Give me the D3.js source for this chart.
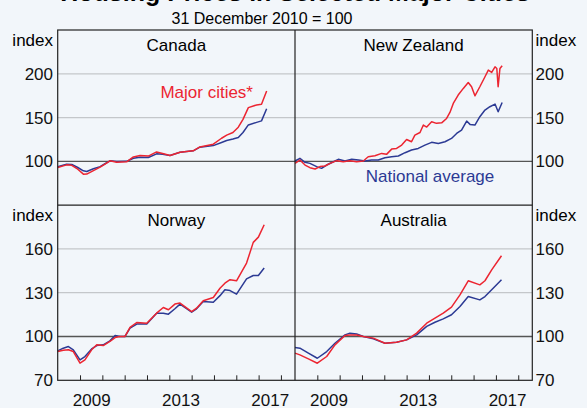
<!DOCTYPE html>
<html>
<head>
<meta charset="utf-8">
<script src="https://cdn.jsdelivr.net/npm/d3@7"></script>
<style>
  body { margin: 0; background: #f2f6fa; }
  svg { display: block; font-family: "Liberation Sans", Arial, sans-serif; }
</style>
</head>
<body>
<script>
// Housing prices, 31 December 2010 = 100

// Canada
var canadaDates = [2008.00, 2008.40, 2008.63, 2008.90, 2009.15, 2009.30, 2009.60, 2009.90, 2010.10, 2010.34,
  2010.64, 2011.09, 2011.39, 2011.69, 2012.06, 2012.43, 2012.70, 2013.03, 2013.48, 2014.07,
  2014.37, 2014.97, 2015.34, 2015.57, 2015.85, 2016.09, 2016.30, 2016.54, 2016.91, 2017.13, 2017.36];
var canadaNational = [94, 96.8, 96.5, 93, 89.2, 88.5, 91.5, 94, 97, 100.6,
  99.8, 100, 103.6, 104.8, 104.4, 108.6, 108, 106.7, 110.5, 112,
  116.2, 118, 121.5, 123.8, 125.5, 127.2, 133, 141.6, 144.5, 146.2, 160];
var canadaCities = [93, 96, 95.5, 91, 85.4, 85.5, 89.5, 93.4, 96.5, 100.6,
  99, 99.5, 105.1, 106.6, 106, 110.8, 109, 106.7, 110.5, 112,
  116.5, 119.6, 126.4, 130, 133, 139, 148, 161.4, 164.4, 165.2, 180.4];

// New Zealand (monthly series, sampled)
var nzCitiesDates = [2008.00, 2008.22, 2008.45, 2008.67, 2008.90, 2009.12, 2009.34, 2009.57, 2009.87, 2010.16,
  2010.46, 2010.76, 2011.06, 2011.28, 2011.58, 2011.88, 2012.10, 2012.33, 2012.55, 2012.78,
  2013.00, 2013.22, 2013.37, 2013.60, 2013.75, 2013.90, 2014.12, 2014.34, 2014.57, 2014.79,
  2014.94, 2015.09, 2015.31, 2015.54, 2015.76, 2015.91, 2016.06, 2016.28, 2016.51, 2016.66,
  2016.81, 2016.96, 2017.04, 2017.10, 2017.18, 2017.28];
var nzCities = [97.7, 101.5, 95.8, 92.8, 91.3, 94, 94.7, 97.7, 100.8, 99.6,
  100.8, 99.6, 100.4, 105.3, 106.5, 109.1, 108, 114, 114.8, 118.6,
  125, 122.4, 130, 133, 141.5, 139.2, 145.3, 143.4, 144, 149,
  155.9, 166.2, 175.7, 183.3, 190.1, 185.2, 174.9, 185.2, 196.6, 204.2,
  201.5, 208, 206.1, 185.2, 206, 209.1];
var nzNationalDates = [2008.00, 2008.22, 2008.45, 2008.67, 2008.97, 2009.19, 2009.42, 2009.72, 2009.94, 2010.24,
  2010.54, 2010.84, 2011.13, 2011.43, 2011.73, 2012.03, 2012.33, 2012.63, 2012.93, 2013.22,
  2013.52, 2013.82, 2014.12, 2014.42, 2014.72, 2015.01, 2015.24, 2015.46, 2015.69, 2015.84,
  2016.06, 2016.28, 2016.51, 2016.73, 2016.96, 2017.10, 2017.28];
var nzNational = [100.4, 103.4, 98.9, 97.7, 94, 92, 95.8, 99.6, 102.3, 100.4,
  102.3, 101.5, 100.4, 101.5, 101.5, 104.2, 105.3, 106.1, 109.9, 112.9,
  114.8, 118.6, 121.7, 120.5, 122.4, 126.2, 131.9, 135.7, 146, 142.2,
  141.5, 151, 158.6, 162.4, 165.4, 156.7, 167.3];

// Norway
var norwayDates = [2008.00, 2008.25, 2008.48, 2008.70, 2009.00, 2009.22, 2009.52, 2009.75, 2010.04, 2010.34,
  2010.57, 2010.79, 2011.01, 2011.24, 2011.54, 2011.99, 2012.43, 2012.73, 2012.96, 2013.25,
  2013.48, 2014.00, 2014.22, 2014.52, 2014.97, 2015.27, 2015.49, 2015.72, 2016.01, 2016.46,
  2016.76, 2016.99, 2017.25];
var norwayNational = [90.2, 92, 93.1, 90.9, 84, 86.3, 91.5, 93.8, 94.3, 97,
  100.7, 100, 100, 105.7, 108.5, 108.5, 116, 116, 115.3, 119,
  122.2, 116.7, 119, 124, 123.5, 128, 132, 131.5, 129, 139.5,
  141.8, 141.8, 146.9];
var norwayCities = [89.7, 90.6, 90.9, 89.7, 81.7, 84, 90.9, 94.3, 93.8, 96.6,
  99.3, 100, 100, 106.2, 109.6, 109.1, 116, 119.9, 118.3, 122.2,
  122.9, 117.1, 119.4, 124.5, 126.7, 133.1, 136.5, 138.9, 138.2, 150.3,
  164.5, 168.1, 176.6];

// Australia
var australiaDates = [2008.00, 2008.22, 2008.60, 2009.00, 2009.42, 2009.79, 2010.24, 2010.46, 2010.76, 2011.06,
  2011.51, 2012.03, 2012.55, 2013.00, 2013.45, 2013.90, 2014.27, 2014.64, 2015.01, 2015.39,
  2015.76, 2016.28, 2016.51, 2016.81, 2017.25];
var australiaNational = [92.5, 92, 88.6, 85.1, 89.7, 95.4, 101.1, 102.3, 101.8, 100,
  98.4, 95.4, 96.1, 97.7, 101.1, 106.9, 109.8, 112.1, 114.9, 120.6,
  127.4, 125.1, 127.4, 132, 138.9];
var australiaCities = [88.6, 87.4, 84.7, 81.7, 86.3, 94.3, 100.7, 101.1, 101.1, 100,
  98.9, 95.4, 96.1, 97.7, 102.3, 109.1, 112.6, 116, 120.1, 128.5,
  138.2, 135.4, 138.2, 145.7, 155.3];

// Axis ticks and labels
var topTicks = [100, 150, 200];
var bottomTicks = [70, 100, 130, 160];
var yearTicks = [2009, 2010, 2011, 2012, 2013, 2014, 2015, 2016, 2017, 2018];
var yearLabels = [2009, 2013, 2017];

var red = "#ec2531";
var blue = "#2c3a94";

// Sizing (note: "top" is reserved on window, so use prefixed names)
var width = 587, height = 408;
var boxLeft = 57.7, boxRight = 532.3, boxTop = 30, boxBottom = 380.3;
var panelW = (boxRight - boxLeft) / 2;
var panelH = (boxBottom - boxTop) / 2;

var svg = d3.select("body")
  .append("svg")
  .attr("width", width)
  .attr("height", height);

// Scales (one per row, x shared by all panels)
var x = d3.scaleLinear().domain([2008, 2018.63]).range([0, panelW]);
var yTop = d3.scaleLinear().domain([50, 250]).range([panelH, 0]);
var yBottom = d3.scaleLinear().domain([70, 190]).range([panelH, 0]);

// Panels built from the arrays above
var panels = [
  {name: "Canada", col: 0, row: 0, y: yTop,
    series: [{dates: canadaDates, values: canadaNational, color: blue},
             {dates: canadaDates, values: canadaCities, color: red}]},
  {name: "New Zealand", col: 1, row: 0, y: yTop,
    series: [{dates: nzNationalDates, values: nzNational, color: blue},
             {dates: nzCitiesDates, values: nzCities, color: red}]},
  {name: "Norway", col: 0, row: 1, y: yBottom,
    series: [{dates: norwayDates, values: norwayNational, color: blue},
             {dates: norwayDates, values: norwayCities, color: red}]},
  {name: "Australia", col: 1, row: 1, y: yBottom,
    series: [{dates: australiaDates, values: australiaNational, color: blue},
             {dates: australiaDates, values: australiaCities, color: red}]}
];

// Title (mostly cut off at the top) and subtitle
svg.append("text")
  .attr("x", 295)
  .attr("y", 1)
  .attr("text-anchor", "middle")
  .style("font-size", "25px")
  .style("font-weight", "bold")
  .text("Housing Prices in Selected Major Cities");

svg.append("text")
  .attr("x", 262)
  .attr("y", 24)
  .attr("text-anchor", "middle")
  .style("font-size", "16px")
  .text("31 December 2010 = 100");

// Gridlines and value labels for each row
function drawRow(yScale, ticks, y0) {
  var g = svg.append("g").attr("transform", "translate(0," + y0 + ")");
  g.selectAll("line.grid")
    .data(ticks.filter(function(d) { return d != 70; }))
    .enter()
    .append("line")
    .attr("x1", boxLeft)
    .attr("x2", boxRight)
    .attr("y1", function(d) { return yScale(d); })
    .attr("y2", function(d) { return yScale(d); })
    .attr("stroke", function(d) { return d == 100 ? "#555" : "#c4c7ca"; })
    .attr("stroke-width", function(d) { return d == 100 ? 1.3 : 1.2; });

  // left labels
  var yl = d3.axisLeft(yScale).tickValues(ticks).tickSize(0).tickPadding(0);
  g.append("g")
    .attr("transform", "translate(53,0)")
    .call(yl)
    .call(function(a) { a.select(".domain").remove(); })
    .selectAll("text")
    .style("font-size", "17px")
    .style("font-family", "Liberation Sans, Arial, sans-serif")
    .attr("fill", "#111");

  // right labels
  var yr = d3.axisRight(yScale).tickValues(ticks).tickSize(0).tickPadding(0);
  g.append("g")
    .attr("transform", "translate(535.5,0)")
    .call(yr)
    .call(function(a) { a.select(".domain").remove(); })
    .selectAll("text")
    .style("font-size", "17px")
    .style("font-family", "Liberation Sans, Arial, sans-serif")
    .attr("fill", "#111");

  // "index" units
  g.append("text").attr("x", 53).attr("y", 15.5).attr("text-anchor", "end")
    .style("font-size", "17px").text("index");
  g.append("text").attr("x", 535.5).attr("y", 15.5).attr("text-anchor", "start")
    .style("font-size", "17px").text("index");
}
drawRow(yTop, topTicks, boxTop);
drawRow(yBottom, bottomTicks, boxTop + panelH);

// Lines
var line = d3.line()
  .x(function(d) { return x(d[0]); });

panels.forEach(function(p) {
  var g = svg.append("g")
    .attr("transform", "translate(" + (boxLeft + p.col * panelW) + "," + (boxTop + p.row * panelH) + ")");

  p.series.forEach(function(s) {
    var pts = s.dates.map(function(d, i) { return [d, s.values[i]]; });
    g.append("path")
      .datum(pts)
      .attr("fill", "none")
      .attr("stroke", s.color)
      .attr("stroke-width", 1.5)
      .attr("stroke-linejoin", "round")
      .attr("d", line.y(function(d) { return p.y(d[1]); }));
  });

  // panel title
  g.append("text")
    .attr("x", panelW / 2)
    .attr("y", 20.5)
    .attr("text-anchor", "middle")
    .style("font-size", "17px")
    .text(p.name);

  // year ticks on bottom row only
  if (p.row == 1) {
    g.append("g")
      .attr("transform", "translate(0," + panelH + ")")
      .call(d3.axisBottom(x).tickValues(yearTicks).tickSize(-5).tickFormat(""))
      .call(function(a) { a.select(".domain").remove(); })
      .selectAll("line").attr("stroke", "#222");

    g.append("g")
      .attr("transform", "translate(0," + panelH + ")")
      .call(d3.axisBottom(x).tickValues(yearLabels.map(function(d) { return d + 0.5; }))
        .tickSize(0).tickPadding(14).tickFormat(function(d) { return Math.floor(d); }))
      .call(function(a) { a.select(".domain").remove(); })
      .selectAll("text")
      .style("font-size", "17px")
      .style("font-family", "Liberation Sans, Arial, sans-serif")
      .attr("fill", "#111");
  }
});

// Panel borders
svg.append("rect")
  .attr("x", boxLeft).attr("y", boxTop)
  .attr("width", boxRight - boxLeft).attr("height", boxBottom - boxTop)
  .attr("fill", "none").attr("stroke", "#222").attr("stroke-width", 1.2);
svg.append("line")
  .attr("x1", boxLeft + panelW).attr("x2", boxLeft + panelW)
  .attr("y1", boxTop).attr("y2", boxBottom)
  .attr("stroke", "#222").attr("stroke-width", 1.2);
svg.append("line")
  .attr("x1", boxLeft).attr("x2", boxRight)
  .attr("y1", boxTop + panelH).attr("y2", boxTop + panelH)
  .attr("stroke", "#222").attr("stroke-width", 1.2);

// Series labels
svg.append("text")
  .attr("x", 253)
  .attr("y", 97.5)
  .attr("text-anchor", "end")
  .attr("fill", red)
  .style("font-size", "17px")
  .text("Major cities*");

svg.append("text")
  .attr("x", 430)
  .attr("y", 181.5)
  .attr("text-anchor", "middle")
  .attr("fill", blue)
  .style("font-size", "17px")
  .text("National average");
</script>
</body>
</html>
